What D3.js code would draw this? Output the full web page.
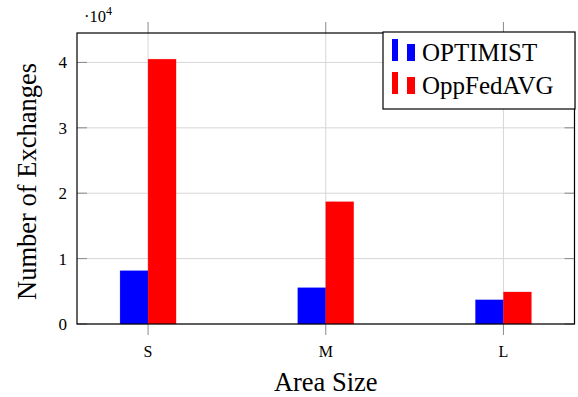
<!DOCTYPE html>
<html>
<head>
<meta charset="utf-8">
<script src="https://cdn.jsdelivr.net/npm/d3@7"></script>
<style>
  body { margin: 0; background: #fff; }
  text { font-family: "Liberation Serif", "DejaVu Serif", serif; fill: #000; }
</style>
</head>
<body>
<svg id="chart" width="578" height="397"></svg>
<script>
"use strict";

// categories and series
const areas = ["S", "M", "L"];
const seriesNames = ["OPTIMIST", "OppFedAVG"];
const optimist = [8150, 5550, 3700];
const oppFedAvg = [40500, 18700, 4900];
const yTicks = [0, 1, 2, 3, 4];

const colors = ["#0000ff", "#ff0000"];

const svg = d3.select("#chart");
const margin = { left: 77, right: 3.5, top: 33, bottom: 73 };
const W = 578, H = 397;
const plotW = W - margin.left - margin.right;
const plotH = H - margin.top - margin.bottom;

const g = svg.append("g").attr("transform", `translate(${margin.left},${margin.top})`);

// x positions: point scale with padding
const x = d3.scalePoint().domain(areas).range([0, plotW]).padding(0.4);
const y = d3.scaleLinear().domain([0, 4.45]).range([plotH, 0]);

// grid lines
g.selectAll(".hgrid").data(yTicks).enter().append("line")
    .attr("x1", 0).attr("x2", plotW)
    .attr("y1", d => y(d)).attr("y2", d => y(d))
    .attr("stroke", "#d6d6d6").attr("stroke-width", 1);
g.selectAll(".vgrid").data(areas).enter().append("line")
    .attr("x1", d => x(d)).attr("x2", d => x(d))
    .attr("y1", 0).attr("y2", plotH)
    .attr("stroke", "#d6d6d6").attr("stroke-width", 1);

// bars
const barW = 28;
const series = [optimist, oppFedAvg];
series.forEach((vals, si) => {
    g.selectAll(".bar" + si).data(areas).enter().append("rect")
        .attr("x", d => x(d) + (si === 0 ? -barW : 0))
        .attr("width", barW)
        .attr("y", (d, i) => y(vals[i] / 1e4))
        .attr("height", (d, i) => plotH - y(vals[i] / 1e4))
        .attr("fill", colors[si])
        .attr("stroke", colors[si]).attr("stroke-opacity", 0.3).attr("stroke-width", 0.6);
});

// small ticks on the axes
g.selectAll(".ytickL").data(yTicks).enter().append("line")
    .attr("x1", 0).attr("x2", 10).attr("y1", d => y(d)).attr("y2", d => y(d))
    .attr("stroke", "#8a8a8a");
g.selectAll(".ytickR").data(yTicks).enter().append("line")
    .attr("x1", plotW - 10).attr("x2", plotW).attr("y1", d => y(d)).attr("y2", d => y(d))
    .attr("stroke", "#8a8a8a");
g.selectAll(".xtickB").data(areas).enter().append("line")
    .attr("x1", d => x(d)).attr("x2", d => x(d)).attr("y1", plotH).attr("y2", plotH + 11)
    .attr("stroke", "#8a8a8a");
g.selectAll(".xtickT").data(areas).enter().append("line")
    .attr("x1", d => x(d)).attr("x2", d => x(d)).attr("y1", -11).attr("y2", 0)
    .attr("stroke", "#8a8a8a");

// frame
g.append("rect").attr("width", plotW).attr("height", plotH)
    .attr("fill", "none").attr("stroke", "#000").attr("stroke-width", 1.2);

// tick labels
g.selectAll(".ylab").data(yTicks).enter().append("text")
    .attr("x", -10).attr("y", d => y(d)).attr("dy", "0.35em")
    .attr("text-anchor", "end").style("font-size", "17px").text(d => d);
g.selectAll(".xlab").data(areas).enter().append("text")
    .attr("x", d => x(d)).attr("y", plotH + 33)
    .attr("text-anchor", "middle").style("font-size", "16px").text(d => d);

// scale factor
const sf = g.append("text").attr("x", 7).attr("y", -11).style("font-size", "16.5px");
sf.append("tspan").text("\u00b710");
sf.append("tspan").attr("dy", -7).style("font-size", "12px").text("4");

// axis titles
svg.append("text").attr("x", margin.left + plotW / 2).attr("y", 391)
    .attr("text-anchor", "middle").style("font-size", "26.5px").text("Area Size");
svg.append("text").attr("transform", `translate(36,${margin.top + plotH / 2 + 3}) rotate(-90)`)
    .attr("text-anchor", "middle").style("font-size", "26.5px").text("Number of Exchanges");

// legend
const lg = svg.append("g").attr("transform", "translate(383,32)");
lg.append("rect").attr("width", 192).attr("height", 77)
    .attr("fill", "#fff").attr("stroke", "#000").attr("stroke-width", 1.2);
seriesNames.forEach((name, i) => {
    const base = 29 + i * 33;
    lg.append("rect").attr("x", 9).attr("y", base - 22).attr("width", 6).attr("height", 22)
        .attr("fill", colors[i]);
    lg.append("rect").attr("x", 24).attr("y", base - 17).attr("width", 8).attr("height", 17)
        .attr("fill", colors[i]);
    lg.append("text").attr("x", 39).attr("y", base).style("font-size", "25px").text(name);
});
</script>
</body>
</html>
